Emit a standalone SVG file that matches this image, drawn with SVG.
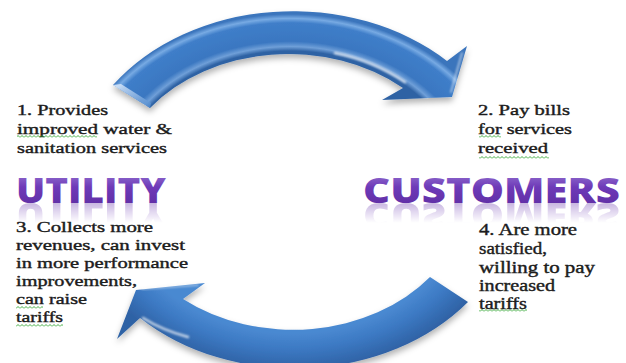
<svg xmlns="http://www.w3.org/2000/svg" width="626" height="363" viewBox="0 0 626 363">
<style>
.title{font-family:"Open Sans","Lato","DejaVu Sans",sans-serif;font-weight:800;font-size:36px;fill:url(#purple)}
.sq{fill:url(#squiggle)}
.glint{fill:none;stroke:#ffffff;stroke-linecap:round}
</style>
<defs>
<linearGradient id="purple" x1="0" y1="0" x2="0" y2="1">
<stop offset="0" stop-color="#a58cda"/>
<stop offset="0.45" stop-color="#6e3ab8"/>
<stop offset="1" stop-color="#5a2a9c"/>
</linearGradient>
<linearGradient id="reflFade" x1="0" y1="1" x2="0" y2="0">
<stop offset="0" stop-color="#fff" stop-opacity="0.35"/>
<stop offset="1" stop-color="#fff" stop-opacity="0"/>
</linearGradient>
<mask id="reflMask" maskUnits="userSpaceOnUse" x="0" y="150" width="626" height="60">
<rect x="0" y="183" width="626" height="20" fill="url(#reflFade)"/>
</mask>
<pattern id="squiggle" patternUnits="userSpaceOnUse" width="4" height="3">
<path d="M0,2.5 L2,0.5 L4,2.5" fill="none" stroke="#2fa52f" stroke-width="0.9"/>
</pattern>
<radialGradient id="topFill" gradientUnits="userSpaceOnUse" cx="290" cy="190" r="176" gradientTransform="translate(290 190) scale(1.256 1) translate(-290 -190)">
<stop offset="0.79" stop-color="#2e62a4"/>
<stop offset="0.815" stop-color="#6f9fd8"/>
<stop offset="0.845" stop-color="#3a77c1"/>
<stop offset="0.95" stop-color="#3f7ec9"/>
<stop offset="0.975" stop-color="#77aae3"/>
<stop offset="1" stop-color="#3a74bc"/>
</radialGradient>
<radialGradient id="botFill" gradientUnits="userSpaceOnUse" cx="292" cy="194" r="176" gradientTransform="translate(292 194) scale(1.256 1) translate(-292 -194)">
<stop offset="0.79" stop-color="#4a89d1"/>
<stop offset="0.88" stop-color="#3c79c3"/>
<stop offset="1" stop-color="#2f62a5"/>
</radialGradient>
<linearGradient id="bevel" x1="0" y1="0" x2="1" y2="1">
<stop offset="0" stop-color="#e8f2ff"/>
<stop offset="1" stop-color="#4a86cc"/>
</linearGradient>
<filter id="shadow" x="-10%" y="-20%" width="120%" height="150%">
<feDropShadow dx="0" dy="4" stdDeviation="3" flood-color="#000" flood-opacity="0.3"/>
</filter>
<filter id="soft" x="-20%" y="-50%" width="140%" height="200%">
<feGaussianBlur stdDeviation="0.8"/>
</filter>
</defs>

<rect width="626" height="363" fill="#ffffff"/>

<g id="connectors">
<g id="arrow-top">
<path d="M113,85 A221,176 0 0 1 447,61 L467,46 L452,97 L382,100 L403,88 A175,139 0 0 0 150,108 Z" fill="url(#topFill)" filter="url(#shadow)"/>
<polygon points="113,85 121,84 151,103 150,108" fill="url(#bevel)" opacity="0.85"/>
<path class="glint" d="M335,53 Q372,60 405,82" stroke-width="2.5" opacity="0.75" filter="url(#soft)"/>
<path class="glint" d="M462,53 L451,92" stroke-width="1.6" opacity="0.6" filter="url(#soft)"/>
</g>
<g id="arrow-bottom">
<path d="M468,302 A221,176 0 0 1 140,318 L117,339 L136,290 L205,283 L183,299 A175,139 0 0 0 430,277 Z" fill="url(#botFill)" filter="url(#shadow)"/>
<path class="glint" d="M143,318 Q162,330 188,337" stroke-width="2.5" opacity="0.7" filter="url(#soft)"/>
<path class="glint" d="M142,289 L198,285" stroke-width="1.5" opacity="0.55" filter="url(#soft)"/>
</g>
</g>

<g id="node-utility">
<text id="utilityTxt" class="title" x="16" y="203" textLength="150" lengthAdjust="spacingAndGlyphs">UTILITY</text>
<use href="#utilityTxt" transform="translate(0,406) scale(1,-1)" mask="url(#reflMask)"/>
</g>

<g id="node-customers">
<text id="customersTxt" class="title" x="363" y="203" textLength="257" lengthAdjust="spacingAndGlyphs">CUSTOMERS</text>
<use href="#customersTxt" transform="translate(0,406) scale(1,-1)" mask="url(#reflMask)"/>
</g>

<g id="label-1" font-family="Liberation Serif, Times New Roman, serif" font-size="15" fill="#1c1c1c" stroke="#1c1c1c" stroke-width="0.4">
<text x="17" y="115" textLength="91" lengthAdjust="spacingAndGlyphs">1. Provides</text>
<text x="17" y="134" textLength="155" lengthAdjust="spacingAndGlyphs">improved water &amp;</text>
<text x="17" y="153" textLength="150" lengthAdjust="spacingAndGlyphs">sanitation services</text>
<rect class="sq" x="17" y="135" width="80" height="3" stroke="none"/>
</g>

<g id="label-2" font-family="Liberation Serif, Times New Roman, serif" font-size="15" fill="#1c1c1c" stroke="#1c1c1c" stroke-width="0.4">
<text x="478" y="115" textLength="92" lengthAdjust="spacingAndGlyphs">2. Pay bills</text>
<text x="478" y="134" textLength="94" lengthAdjust="spacingAndGlyphs">for services</text>
<text x="478" y="153" textLength="70" lengthAdjust="spacingAndGlyphs">received</text>
<rect class="sq" x="479" y="135" width="22" height="3" stroke="none"/>
<rect class="sq" x="479" y="156" width="70" height="3" stroke="none"/>
</g>

<g id="label-3" font-family="Liberation Serif, Times New Roman, serif" font-size="15" fill="#1c1c1c" stroke="#1c1c1c" stroke-width="0.4">
<text x="16" y="232" textLength="137" lengthAdjust="spacingAndGlyphs">3. Collects  more</text>
<text x="16" y="250" textLength="169" lengthAdjust="spacingAndGlyphs">revenues, can invest</text>
<text x="16" y="268" textLength="172" lengthAdjust="spacingAndGlyphs">in more performance</text>
<text x="16" y="286" textLength="121" lengthAdjust="spacingAndGlyphs">improvements,</text>
<text x="16" y="304" textLength="71" lengthAdjust="spacingAndGlyphs">can raise</text>
<text x="16" y="322" textLength="47" lengthAdjust="spacingAndGlyphs">tariffs</text>
<rect class="sq" x="16" y="306" width="27" height="3" stroke="none"/>
<rect class="sq" x="16" y="324" width="47" height="3" stroke="none"/>
</g>

<g id="label-4" font-family="Liberation Serif, Times New Roman, serif" font-size="16.5" fill="#1c1c1c" stroke="#1c1c1c" stroke-width="0.4">
<text x="479" y="235" textLength="98" lengthAdjust="spacingAndGlyphs">4. Are more</text>
<text x="479" y="254" textLength="68" lengthAdjust="spacingAndGlyphs">satisfied,</text>
<text x="479" y="273" textLength="116" lengthAdjust="spacingAndGlyphs">willing to pay</text>
<text x="479" y="291" textLength="76" lengthAdjust="spacingAndGlyphs">increased</text>
<text x="479" y="309" textLength="48" lengthAdjust="spacingAndGlyphs">tariffs</text>
<rect class="sq" x="479" y="309" width="48" height="3" stroke="none"/>
</g>
</svg>
